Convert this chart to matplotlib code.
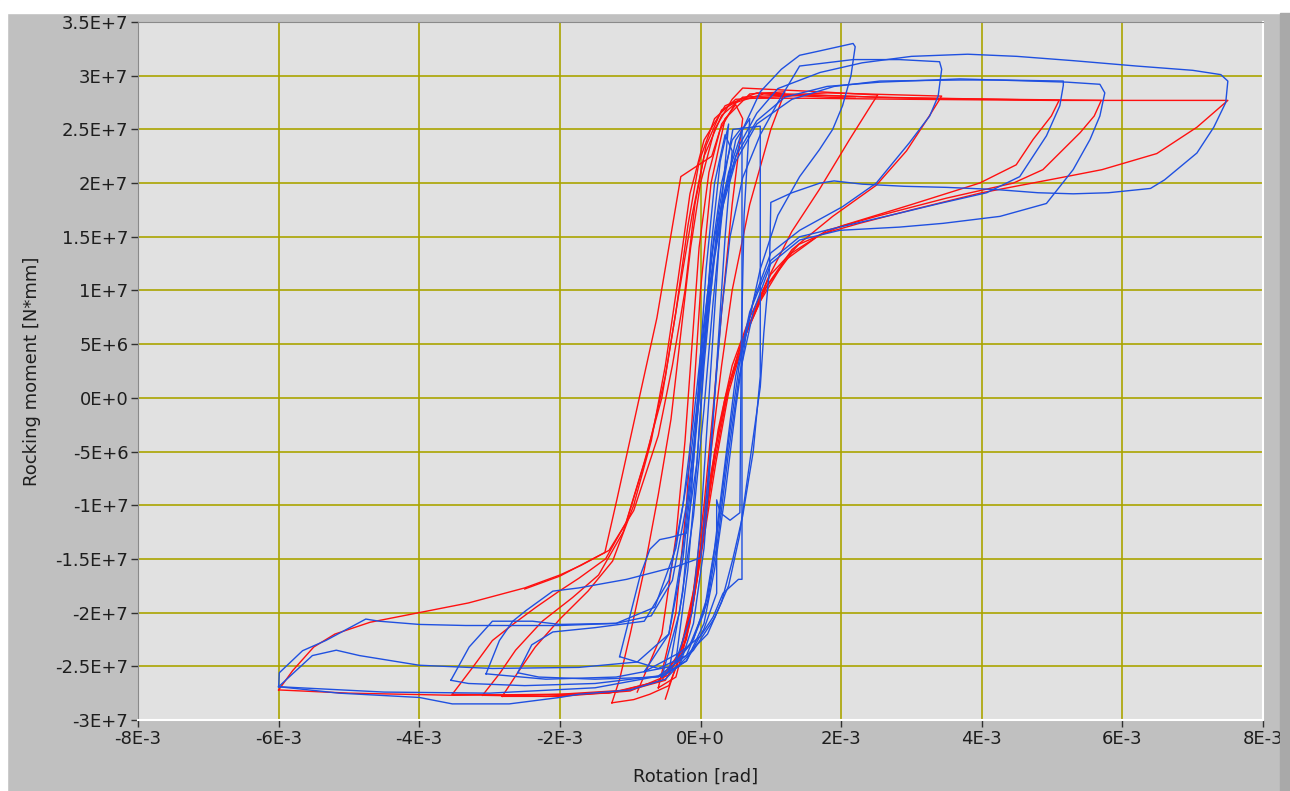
import numpy as np
import matplotlib.pyplot as plt
from matplotlib.patches import Rectangle

# loops: (rotation in 1E-3 rad, moment in 1E+6 N*mm)
red_a = [(-6.0,-27.2),(-5.8,-25.4),(-5.5,-23.2),(-5.2,-22.0),(-4.7,-20.9),(-4.0,-20.0),(-3.3,-19.1),
         (-2.5,-17.7),(-2.0,-16.5),(-1.7,-15.6),(-1.3,-14.2),(-0.95,-10.5),(-0.6,-3.5),(-0.4,3),
         (-0.22,10),(-0.08,18),(0.08,23.5),(0.3,26.8),(0.6,27.9),(1.5,27.9),(3,27.8),(5,27.7),(7.5,27.7),
         (7.06,25.2),(6.49,22.75),(5.71,21.25),(5.2,20.6),(4.0,19.1),(3.0,17.5),(2.26,16.25),(1.7,15.2),
         (1.2,12.8),(0.85,9),(0.55,4.5),(0.35,0),(0.15,-7),(0,-14),(-0.15,-20),(-0.3,-24),(-0.5,-26.3),
         (-1.0,-27.2),(-2.0,-27.6),(-3.5,-27.7),(-5.0,-27.5),(-6.0,-27.2)]
red_b = [(-3.1,-27.7),(-2.86,-25.7),(-2.63,-23.5),(-2.25,-20.8),(-1.82,-18.6),(-1.45,-16.5),(-1.1,-12.5),
         (-0.8,-6),(-0.55,0),(-0.35,8),(-0.18,16),(-0.02,22),(0.2,26),(0.5,27.8),(1.5,28.2),(3,27.9),
         (5.7,27.7),(5.6,26.25),(5.4,24.7),(4.87,21.25),(4.45,20.0),(3.5,18.6),(2.5,16.9),(1.8,15.6),
         (1.3,13.5),(0.9,10),(0.6,5.5),(0.4,1),(0.2,-5),(0.05,-12),(-0.1,-19),(-0.28,-23.5),(-0.55,-26.3),
         (-1.2,-27.4),(-2.2,-27.8),(-3.1,-27.7)]
red_c = [(-2.82,-27.8),(-2.6,-25.6),(-2.35,-23.2),(-2.0,-20.6),(-1.6,-18.0),(-1.25,-15.2),(-0.95,-10),
         (-0.7,-4),(-0.5,3),(-0.32,11),(-0.15,19),(0.05,24),(0.35,27.2),(0.8,28.4),(2.5,28.0),(5.1,27.7),
         (4.99,26.25),(4.73,24.06),(4.49,21.7),(3.97,20.0),(3.0,18.0),(2.0,16.0),(1.4,14.3),(1.0,11.5),
         (0.7,7.5),(0.45,3),(0.25,-3),(0.1,-10),(-0.05,-17),(-0.2,-22.5),(-0.45,-25.8),(-1.0,-27.3),
         (-2.0,-27.8),(-2.82,-27.8)]
red_d = [(-3.53,-27.6),(-3.24,-25.1),(-2.96,-22.6),(-2.67,-21.1),(-2.34,-19.5),(-2.01,-18.0),(-1.73,-16.8),
         (-1.35,-15.0),(-1.05,-11.5),(-0.75,-5),(-0.5,2),(-0.3,10),(-0.12,17),(0.05,22.5),(0.3,26.3),
         (0.6,28.0),(1.8,28.4),(3.43,28.1),(3.24,26.1),(2.93,23.0),(2.5,19.8),(1.88,16.9),(1.3,13.8),
         (0.95,10.5),(0.65,6),(0.4,1),(0.2,-6),(0.03,-13),(-0.12,-19.5),(-0.3,-23.8),(-0.6,-26.4),
         (-1.3,-27.5),(-2.5,-27.7),(-3.53,-27.6)]
red_e = [(-1.26,-28.4),(-1.15,-26.2),(-1.0,-22),(-0.8,-16),(-0.6,-9),(-0.42,-2),(-0.28,6),(-0.14,14),
         (0.0,20),(0.2,25),(0.45,27.8),(0.6,28.85),(1.7,28.5),(2.52,28.2),(2.45,27.5),(2.12,24.06),
         (1.69,19.4),(1.3,15.5),(0.95,11),(0.65,6),(0.4,0.5),(0.22,-6),(0.05,-13),(-0.1,-19),
         (-0.25,-23.5),(-0.45,-26.8),(-0.72,-27.6),(-0.95,-28.1),(-1.26,-28.4)]
red_f = [(-2.5,-17.8),(-2.0,-16.6),(-1.36,-14.4),(-1.19,-9.5),(-0.62,7.45),(-0.28,20.6),(0.16,22.5),
         (0.28,25.0),(0.5,27.5),(0.9,28.3),(1.8,28.0),(2.2,27.9)]
red_g = [(-0.6,-27.0),(-0.35,-20),(-0.2,-10),(-0.1,0),(0.0,10),(0.15,20),(0.35,26),(0.7,28.3),(1.2,28.5),
         (1.0,25),(0.7,18),(0.45,10),(0.3,3),(0.15,-5),(0.0,-14),(-0.15,-21),(-0.35,-26),(-0.6,-27.0)]
red_h = [(-0.9,-27.4),(-0.55,-22),(-0.35,-13),(-0.22,-4),(-0.12,5),(-0.02,14),(0.12,21),(0.3,25.5),
         (0.5,27.3),(0.6,26),(0.45,18),(0.3,8),(0.18,-1),(0.05,-10),(-0.1,-18),(-0.3,-24),(-0.5,-28.05)]

blue_a = [(-6.0,-26.9),(-5.99,-25.6),(-5.66,-23.55),(-5.33,-22.6),(-4.76,-20.6),(-4.57,-20.8),(-4.0,-21.1),
          (-3.34,-21.2),(-2.0,-21.2),(-1.2,-21.0),(-0.7,-20.3),(-0.4,-17),(-0.2,-10),(-0.05,-2),(0.08,6),
          (0.2,13),(0.35,19),(0.55,23.5),(0.8,26.5),(1.1,28.8),(1.7,30.3),(2.3,31.2),(3.0,31.8),(3.8,32.0),
          (4.5,31.8),(5.3,31.4),(6.2,30.9),(7.0,30.5),(7.4,30.1),(7.5,29.5),(7.47,27.5),(7.3,25.2),
          (7.06,22.8),(6.6,20.3),(6.4,19.5),(5.8,19.1),(5.3,19.0),(4.8,19.1),(4.2,19.4),(3.5,19.6),
          (2.9,19.7),(2.3,19.9),(1.9,20.2),(1.7,20.0),(1.3,19.1),(1.0,18.2),(0.98,12),(0.9,6),(0.85,1),
          (0.7,-6),(0.55,-13),(0.4,-17.5),(0.2,-20.5),(-0.1,-23.5),(-0.5,-26.2),(-1.0,-27.2),(-1.73,-27.6),
          (-2.0,-27.9),(-2.72,-28.5),(-3.53,-28.5),(-4.0,-27.9),(-5.14,-27.5),(-6.0,-26.9)]
blue_b = [(-6.0,-26.9),(-5.52,-24.0),(-5.18,-23.5),(-4.85,-24.0),(-4.0,-24.9),(-2.96,-25.2),(-1.73,-25.1),
          (-0.9,-24.6),(-0.45,-22),(-0.25,-15),(-0.1,-6),(0.02,3),(0.15,11),(0.3,18),(0.5,22.5),(0.8,25.8),
          (1.2,28.0),(1.8,29.0),(2.55,29.4),(3.69,29.7),(5.21,29.4),(5.68,29.2),(5.75,28.4),(5.68,26.25),
          (5.54,24.06),(5.3,21.25),(4.92,18.1),(4.26,16.9),(3.45,16.25),(2.83,15.9),(1.98,15.6),(1.41,14.7),
          (1.0,12.5),(0.75,8),(0.55,2),(0.4,-5),(0.25,-13),(0.1,-19),(-0.15,-23),(-0.5,-25.8),(-1.5,-27.0),
          (-3.0,-27.5),(-4.5,-27.4),(-6.0,-26.9)]
blue_c = [(-3.55,-26.3),(-3.29,-23.2),(-3.0,-21.1),(-2.96,-20.8),(-2.39,-20.8),(-2.0,-21.1),(-1.2,-21.0),
          (-0.65,-19.5),(-0.35,-14),(-0.15,-6),(0.0,2),(0.12,10),(0.28,17),(0.5,22),(0.8,25.5),(1.3,27.8),
          (1.9,29.0),(2.55,29.5),(3.69,29.6),(4.26,29.6),(5.16,29.5),(5.16,29.1),(5.11,27.2),(4.92,24.4),
          (4.54,20.6),(4.07,19.1),(3.4,18.1),(2.83,17.2),(1.98,15.9),(1.41,15.0),(1.0,12.8),(0.7,8),
          (0.5,2),(0.35,-6),(0.2,-14),(0.05,-20),(-0.2,-24),(-0.6,-25.9),(-1.5,-26.6),(-2.5,-26.8),
          (-3.3,-26.6),(-3.55,-26.3)]
blue_d = [(-3.05,-25.7),(-2.86,-22.6),(-2.67,-20.8),(-2.48,-19.8),(-2.1,-18.0),(-1.73,-17.7),(-1.05,-16.9),
          (-0.34,-15.7),(0.0,-14.9),(0.1,-8),(0.2,0),(0.3,8),(0.42,15),(0.6,20.5),(0.85,24.5),(1.1,27.5),
          (1.41,30.9),(2.17,31.5),(2.83,31.5),(3.4,31.3),(3.43,30.6),(3.38,28.1),(3.26,26.25),(2.97,23.75),
          (2.5,20.0),(2.02,17.8),(1.41,15.6),(1.0,13.5),(0.75,9),(0.55,3),(0.4,-4),(0.25,-12),(0.1,-18.5),
          (-0.1,-22.5),(-0.4,-25),(-1.2,-26.0),(-2.2,-26.2),(-3.05,-25.7)]
blue_e = [(-2.6,-25.6),(-2.4,-23),(-2.1,-21.8),(-1.5,-21.4),(-0.8,-20.8),(-0.45,-17),(-0.25,-10),(-0.1,-2),
          (0.05,7),(0.2,15),(0.4,21),(0.6,25),(0.85,28.5),(1.15,30.6),(1.41,31.9),(1.69,32.3),(2.17,33.0),
          (2.2,32.7),(2.14,30.0),(2.02,27.2),(1.88,25.0),(1.69,23.1),(1.41,20.6),(1.1,17),(0.85,12),
          (0.65,6),(0.5,-1),(0.35,-9),(0.2,-16),(0.05,-21),(-0.2,-24.5),(-0.6,-26),(-1.5,-26.2),
          (-2.3,-26.0),(-2.6,-25.6)]
blue_f = [(-1.15,-24.1),(-0.86,-16.6),(-0.72,-14.1),(-0.58,-13.2),(-0.43,-13.0),(-0.2,-12.6),(-0.05,-6),
          (0.05,3),(0.15,10),(0.25,17),(0.38,22),(0.46,25.0),(0.85,25.3),(0.85,9.1),(0.85,2.0),(0.75,-5),
          (0.6,-11),(0.46,-15),(0.3,-19),(0.1,-22),(-0.2,-24),(-0.6,-25.2),(-1.15,-24.1)]
blue_g = [(-0.8,-25.5),(-0.45,-22),(-0.25,-14),(-0.1,-5),(0.03,5),(0.15,13),(0.3,20),(0.45,24),(0.59,25.2),
          (0.59,-2.7),(0.59,-9.5),(0.59,-16.9),(0.54,-16.9),(0.32,-18.2),(0.18,-20.4),(0.0,-22.2),
          (-0.29,-23.7),(-0.8,-25.5)]
blue_h = [(-0.45,-25.5),(-0.25,-18),(-0.12,-8),(-0.02,2),(0.08,12),(0.2,20),(0.35,24.5),(0.45,23),
          (0.35,15),(0.25,5),(0.15,-5),(0.05,-14),(-0.1,-21),(-0.3,-25),(-0.45,-25.5)]
blue_i = [(-0.35,-24.5),(-0.18,-16),(-0.05,-6),(0.05,4),(0.15,14),(0.28,22),(0.4,25.5),(0.3,18),(0.2,8),
          (0.1,-2),(0.0,-12),(-0.12,-20),(-0.35,-24.5)]
blue_j = [(-0.55,-26),(-0.3,-20),(-0.1,-11),(0.05,-1),(0.18,9),(0.32,18),(0.5,24),(0.7,26),(0.62,17),
          (0.58,5),(0.56,-10.7),(0.42,-11.4),(0.28,-10.7),(0.23,-9.5),(0.23,-18.2),(0.05,-21.5),
          (-0.2,-24.5),(-0.55,-26)]

red_loops = [red_a, red_b, red_c, red_d, red_e, red_f, red_g, red_h]
blue_loops = [blue_a, blue_b, blue_c, blue_d, blue_e, blue_f, blue_g, blue_h, blue_i, blue_j]

x_ticks = [-8e-3, -6e-3, -4e-3, -2e-3, 0, 2e-3, 4e-3, 6e-3, 8e-3]
x_labels = ['-8E-3', '-6E-3', '-4E-3', '-2E-3', '0E+0', '2E-3', '4E-3', '6E-3', '8E-3']
y_ticks = np.arange(-3e7, 3.5e7 + 1, 5e6)
y_labels = ['-3E+7', '-2.5E+7', '-2E+7', '-1.5E+7', '-1E+7', '-5E+6', '0E+0',
            '5E+6', '1E+7', '1.5E+7', '2E+7', '2.5E+7', '3E+7', '3.5E+7']

W, H = 1290, 791
fig = plt.figure(figsize=(W / 100, H / 100), dpi=100, facecolor='#c0c0c0')
fig.patches.append(Rectangle((0, 1 - 13 / H), 1, 13 / H, transform=fig.transFigure,
                             color='white', zorder=0))
fig.patches.append(Rectangle((0, 0), 7 / W, 1, transform=fig.transFigure, color='white', zorder=0))
fig.patches.append(Rectangle((1280 / W, 0), 10 / W, 1 - 13 / H, transform=fig.transFigure,
                             color='#a9a9a9', zorder=0))

ax = fig.add_axes([138 / W, 71 / H, 1125 / W, 698 / H])
ax.set_facecolor('#e1e1e1')

for lp in red_loops:
    a = np.array(lp)
    ax.plot(a[:, 0] * 1e-3, a[:, 1] * 1e6, color='#ff1010', lw=1.0, zorder=3)
for lp in blue_loops:
    a = np.array(lp)
    ax.plot(a[:, 0] * 1e-3, a[:, 1] * 1e6, color='#1f50e0', lw=1.0, zorder=4)

ax.set_xlim(-8e-3, 8e-3)
ax.set_ylim(-3e7, 3.5e7)
ax.set_xticks(x_ticks)
ax.set_xticklabels(x_labels)
ax.set_yticks(y_ticks)
ax.set_yticklabels(y_labels)
ax.grid(True, color='#aaa400', lw=1.2)
ax.set_axisbelow(True)
ax.tick_params(direction='out', length=5, width=1, color='#303030', labelsize=13,
               labelcolor='#1e1e1e', pad=2)
for s in ['left', 'top']:
    ax.spines[s].set_color('#8a8a8a')
for s in ['right', 'bottom']:
    ax.spines[s].set_color('#ffffff')
    ax.spines[s].set_linewidth(1.5)

ax.set_xlabel('Rotation [rad]', fontsize=13, color='#1e1e1e')
ax.set_ylabel('Rocking moment [N*mm]', fontsize=13, color='#1e1e1e')
ax.xaxis.set_label_coords(0.496, -57 / 698)
ax.xaxis.label.set_va('center')
ax.yaxis.set_label_coords(-106 / 1125, 0.5)
ax.yaxis.label.set_va('center')

fig.savefig('out.png', dpi=100, facecolor=fig.get_facecolor())
